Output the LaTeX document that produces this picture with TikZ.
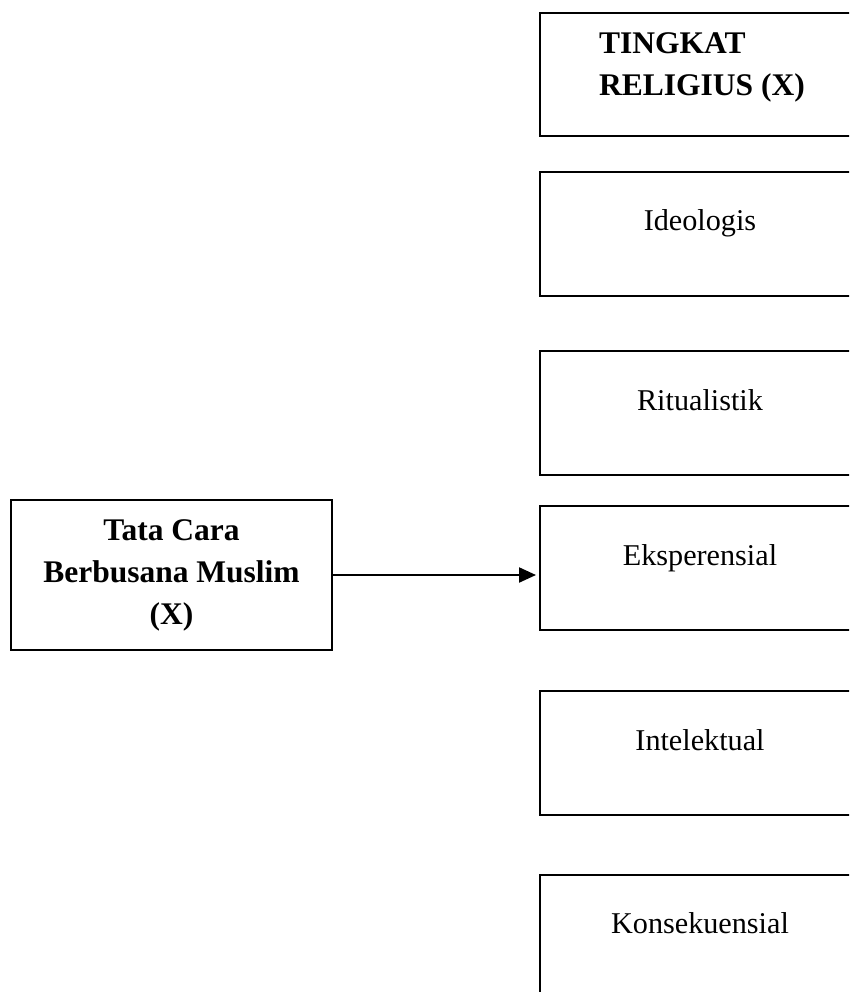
\documentclass[tikz,border=0pt]{standalone}
\usepackage{fontspec}
\setmainfont{Liberation Serif}
\usetikzlibrary{arrows.meta}
\begin{document}
\begin{tikzpicture}[x=1pt,y=-1pt,
  rbox/.style={draw, line width=2pt, rectangle, inner sep=0pt, anchor=north west,
    minimum width=400pt, minimum height=124pt},
  lbl/.style={font=\fontsize{30.2}{42}\selectfont, anchor=base, inner sep=0pt},
  blbl/.style={font=\fontsize{31.5}{42}\selectfont\bfseries, inner sep=0pt},
  conn/.style={line width=2.2pt, -{Triangle[length=17pt,width=15pt]}, shorten >=3pt}]
\useasboundingbox (0,0) rectangle (849,992);
\clip (0,0) rectangle (849,992);

% right column boxes
\node[rbox, minimum height=123pt] (b1) at (539,12) {};
\node[rbox] (b2) at (539,171) {};
\node[rbox] (b3) at (539,350) {};
\node[rbox] (b4) at (539,505) {};
\node[rbox] (b5) at (539,690) {};
\node[rbox] (b6) at (539,874) {};

% labels
\node[blbl, anchor=north west, align=left] (t1) at (599,32) {TINGKAT\\RELIGIUS (X)};
\node[lbl] (t2) at (700,231) {Ideologis};
\node[lbl] (t3) at (700,410) {Ritualistik};
\node[lbl] (t4) at (700,565) {Eksperensial};
\node[lbl] (t5) at (700,750) {Intelektual};
\node[lbl] (t6) at (700,933) {Konsekuensial};

% source box
\node[draw, line width=2pt, rectangle, inner sep=0pt, minimum width=321pt, minimum height=150pt,
  align=center, blbl] (src) at (171.5,575) {Tata Cara\\Berbusana Muslim\\(X)};

\draw[conn] (src.east) -- (src.east -| b4.west);
\end{tikzpicture}
\end{document}
